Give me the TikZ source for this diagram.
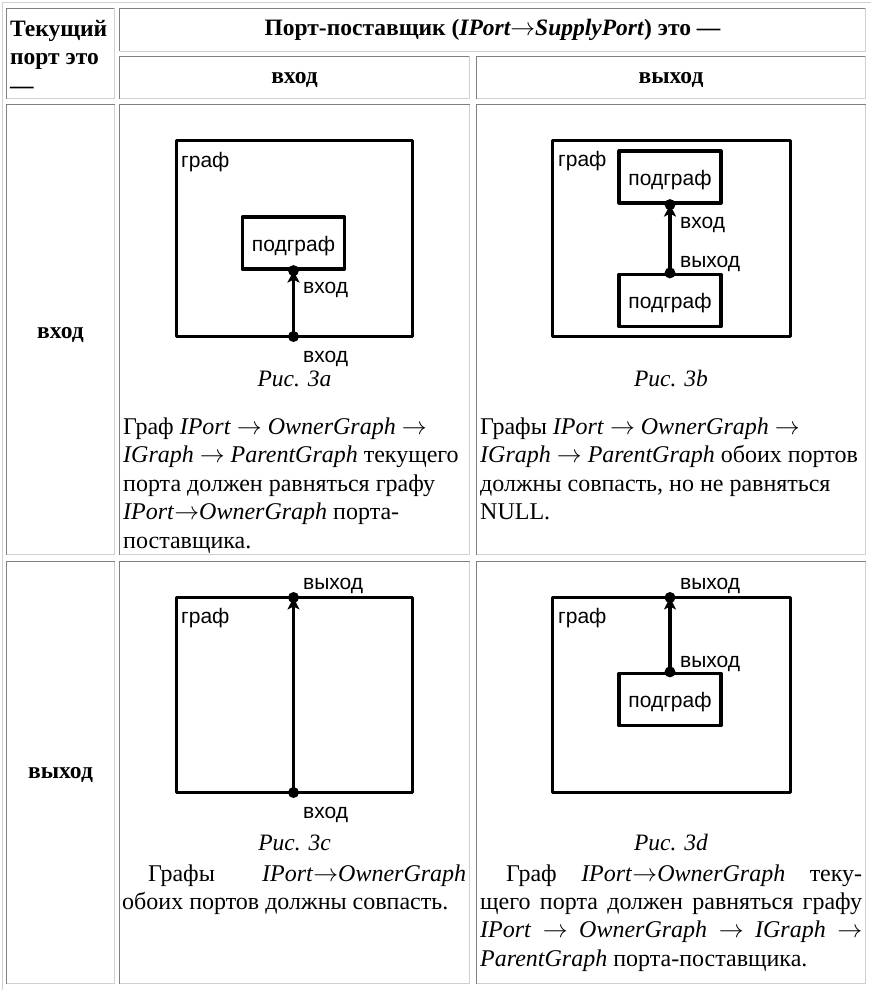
\documentclass[tikz,border=0pt]{standalone}
\usepackage{fontspec}
\setmainfont{Liberation Serif}
\newfontfamily\diagfont{Liberation Sans}
\usetikzlibrary{arrows.meta}
\definecolor{cellgray}{HTML}{808080}
\definecolor{celllight}{HTML}{D4D0C8}
\newcommand{\portto}{\ensuremath{\rightarrow}}
\hyphenpenalty=10000
\exhyphenpenalty=10000
\begin{document}
\begin{tikzpicture}[x=1pt,y=-1pt,
    bodytext/.style={anchor=north west,inner sep=0pt,align=flush left,font=\fontsize{24}{28.5}\selectfont},
    justtext/.style={anchor=north west,inner sep=0pt,align=justify,font=\fontsize{24}{28.3}\selectfont},
    headtext/.style={anchor=base,inner sep=0pt,font=\bfseries\fontsize{23.5}{28.5}\selectfont},
    figcaption/.style={anchor=base,inner sep=0pt,font=\itshape\fontsize{23.5}{28.5}\selectfont},
    graphbox/.style={line width=3.2pt,line join=round},
    subbox/.style={draw,line width=3.2pt,line join=round,minimum width=102pt,minimum height=52pt,inner sep=0pt,text height=20.6pt,text depth=4pt,font=\diagfont\fontsize{21}{21}\selectfont},
    graphlabel/.style={anchor=base west,inner sep=0pt,font=\diagfont\fontsize{21}{21}\selectfont},
    portarrow/.style={line width=3.2pt,-{Stealth[length=12pt,width=12pt,inset=3pt]}}]
\path[fill=white,use as bounding box] (0,0) rectangle (871,990);
\draw[celllight,line width=1.5pt] (2.5,990) -- (2.5,2.5) -- (871,2.5);
\foreach \xa/\ya/\xb/\yb in {6.5/8.5/114.5/98.5,119.5/8.5/865.5/51.5,119.5/56.5/469.5/98.5,476.5/56.5/865.5/98.5,
    6.5/104.5/114.5/554.5,119.5/104.5/469.5/554.5,476.5/104.5/865.5/554.5,
    6.5/561.5/114.5/983.5,119.5/561.5/469.5/983.5,476.5/561.5/865.5/983.5}{
  \draw[cellgray,line width=1.4pt] (\xa,\yb) -- (\xa,\ya) -- (\xb,\ya);
  \draw[celllight,line width=1.4pt] (\xb,\ya) -- (\xb,\yb) -- (\xa,\yb);
}
\node[anchor=north west,inner sep=0pt,align=flush left,font=\bfseries\fontsize{23.5}{28.5}\selectfont] (hdr-cur) at (10,16) {\rule{0pt}{20pt}Текущий\\порт это\\—};
\node[headtext] (hdr-sup) at (492.5,36) {Порт-поставщик (\textit{IPort\portto SupplyPort}) это —};
\node[headtext] (hdr-in) at (294.5,84) {вход};
\node[headtext] (hdr-out) at (671,84) {выход};
\node[headtext] (row-in) at (60.5,338) {вход};
\node[headtext] (row-out) at (60.5,778) {выход};
% Рис. 3a
\draw[graphbox] (176.5,140.5) rectangle (412.5,336.5);
\node[graphlabel] (a-graph) at (181,167) {граф};
\node[subbox] (a-sub) at (293.5,243) {подграф};
\coordinate (a-port) at (293.5,336.5);
\draw[portarrow] (a-port) -- (a-sub.south);
\fill (a-port) circle[radius=5.5pt] (a-sub.south) circle[radius=5.5pt];
\node[graphlabel] (a-subin) at (303,293) {вход};
\node[graphlabel] (a-in) at (303,362) {вход};
\node[figcaption] (a-cap) at (294.5,386) {Рис. 3a};
\node[bodytext,text width=345pt] (a-txt) at (123,414) {\rule{0pt}{20pt}Граф \textit{IPort} \portto{} \textit{OwnerGraph} \portto\\
  \textit{IGraph} \portto{} \textit{ParentGraph} текущего\\порта должен равняться графу\\
  \textit{IPort}\portto\textit{OwnerGraph} порта-\\поставщика.};
% Рис. 3b
\draw[graphbox] (552.5,140.5) rectangle (790.5,336.5);
\node[graphlabel] (b-graph) at (558,166) {граф};
\node[subbox] (b-subtop) at (670,177) {подграф};
\node[subbox] (b-subbot) at (670,300.5) {подграф};
\draw[portarrow] (b-subbot.north) -- (b-subtop.south);
\fill (b-subbot.north) circle[radius=5.5pt] (b-subtop.south) circle[radius=5.5pt];
\node[graphlabel] (b-in) at (680,228) {вход};
\node[graphlabel] (b-out) at (680,267) {выход};
\node[figcaption] (b-cap) at (671,386) {Рис. 3b};
\node[bodytext,text width=400pt] (b-txt) at (480,414) {\rule{0pt}{20pt}Графы \textit{IPort} \portto{} \textit{OwnerGraph} \portto\\
  \textit{IGraph} \portto{} \textit{ParentGraph} обоих портов\\должны совпасть, но не равняться\\NULL.};
% Рис. 3c
\draw[graphbox] (176.5,597.5) rectangle (412.5,792.5);
\node[graphlabel] (c-graph) at (181,623) {граф};
\coordinate (c-port) at (293.5,792.5);
\coordinate (c-exit) at (293.5,597.5);
\draw[portarrow] (c-port) -- (c-exit);
\fill (c-port) circle[radius=5.5pt] (c-exit) circle[radius=5.5pt];
\node[graphlabel] (c-out) at (303,589) {выход};
\node[graphlabel] (c-in) at (303,818) {вход};
\node[figcaption] (c-cap) at (294.5,850) {Рис. 3c};
\node[justtext,text width=344pt] (c-txt) at (122,861) {\rule{0pt}{20pt}\hspace*{26pt}Графы \textit{IPort}\portto\textit{OwnerGraph}\linebreak
  обоих портов должны совпасть.};
% Рис. 3d
\draw[graphbox] (552.5,597.5) rectangle (790.5,792.5);
\node[graphlabel] (d-graph) at (558,623) {граф};
\node[subbox] (d-sub) at (670,699.5) {подграф};
\coordinate (d-exit) at (670,597.5);
\draw[portarrow] (d-sub.north) -- (d-exit);
\fill (d-sub.north) circle[radius=5.5pt] (d-exit) circle[radius=5.5pt];
\node[graphlabel] (d-subout) at (680,667) {выход};
\node[graphlabel] (d-out) at (680,589) {выход};
\node[figcaption] (d-cap) at (671,850) {Рис. 3d};
\node[justtext,text width=382pt] (d-txt) at (480,861) {\rule{0pt}{20pt}\hspace*{26pt}Граф \textit{IPort}\portto\textit{OwnerGraph} теку-\linebreak
  щего порта должен равняться графу\linebreak
  \textit{IPort} \portto{} \textit{OwnerGraph} \portto{} \textit{IGraph} \portto\linebreak
  \textit{ParentGraph} порта-поставщика.};
\end{tikzpicture}
\end{document}
